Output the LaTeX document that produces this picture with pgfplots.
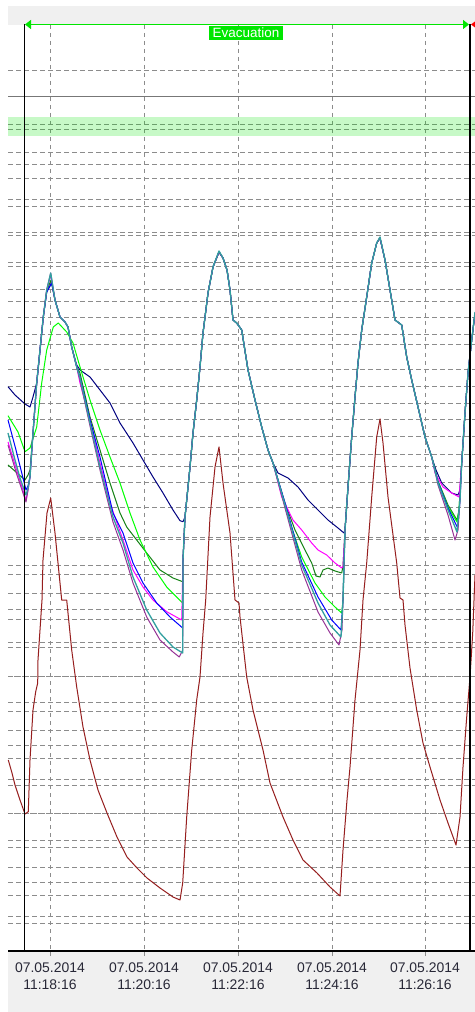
\documentclass[border=0pt]{standalone}
\usepackage{pgfplots}
\pgfplotsset{compat=1.18}
\usepackage{fontspec}
\setmainfont{Liberation Sans}
\usetikzlibrary{arrows.meta}

\definecolor{panel}{RGB}{240,240,240}
\definecolor{gridgray}{RGB}{140,140,140}
\definecolor{ticktext}{RGB}{40,40,55}
\definecolor{evgreen}{RGB}{0,230,0}
\definecolor{cMaroon}{RGB}{150,30,30}
\definecolor{cTeal}{RGB}{50,160,160}
\definecolor{cBlue}{RGB}{0,0,255}
\definecolor{cNavy}{RGB}{0,0,128}
\definecolor{cMagenta}{RGB}{255,0,255}
\definecolor{cPurple}{RGB}{150,50,150}
\definecolor{cLime}{RGB}{0,255,0}
\definecolor{cDkGreen}{RGB}{20,130,20}

\begin{document}
\begin{tikzpicture}[x=1bp,y=1bp]
\path[use as bounding box, fill=white] (0,0) rectangle (475,1012);
\fill[panel] (8,0) rectangle (475,1006);
\begin{axis}[
  at={(8bp,61bp)}, anchor=south west,
  scale only axis, width=467bp, height=926bp,
  xmin=8, xmax=475, ymin=25, ymax=951, y dir=reverse,
  clip=false,
  axis background/.style={fill=white},
  axis line style={draw=none},
  xtick={50,144,238,332,425},
  xticklabels={{07.05.2014\\11:18:16},{07.05.2014\\11:20:16},{07.05.2014\\11:22:16},{07.05.2014\\11:24:16},{07.05.2014\\11:26:16}},
  xtick pos=left, xticklabel pos=left,
  tick align=outside, major tick length=5bp,
  xtick style={draw=gridgray, line width=1bp},
  xticklabel style={align=center, font=\fontsize{14}{17}\selectfont, text=ticktext, yshift=-3bp},
  ytick={70.3,125,129.3,152.7,164.7,179,199.7,207,232.7,235.3,262.3,267,290,301.5,318,335,344.3,370,386.7,404,420,436.7,454.3,466.7,482.7,507.3,537.3,539.3,565,574,593.3,609.3,619.3,642.7,647.5,676,702.5,711.5,730.5,745,758.3,779.5,785,813.5,840.7,847.3,867.3,882.3,895.3,916.5,923.3},
  yticklabels={}, ytick style={draw=none},
  xmajorgrids, ymajorgrids,
  x grid style={gridgray, line width=1bp, dash pattern=on 4bp off 4bp},
  y grid style={gridgray, line width=1bp, dash pattern=on 5bp off 3bp},
  every axis plot/.append style={line width=1bp, line join=round, no markers},
]
% reference lines and band
\draw[gridgray!85!black, line width=1bp] (axis cs:8,97) -- (axis cs:475,97);
\draw[gridgray, line width=1bp, dash pattern=on 5bp off 3bp, dash phase=2bp] (axis cs:8,676) -- (axis cs:475,676);
\draw[gridgray, line width=1bp, dash pattern=on 5bp off 3bp, dash phase=2bp] (axis cs:8,813.5) -- (axis cs:475,813.5);
\fill[evgreen, opacity=0.22] (axis cs:8,117) rectangle (axis cs:475,136);

% outdoor / lower sensor
\addplot[cMaroon] coordinates {
(8.3,760) (12,773) (15,785) (20,800) (25,814) (28.3,811.7) (30,760) (33,710) (35.7,691.7) (37.7,683) (38,660) (42,600) (43,560) (47,513) (50.7,498)
(55,533) (61.7,600) (66.7,600) (71.7,650) (76.7,687) (83,727) (90,760) (98,790) (107,813) (117,837) (127,857) (137,868) (147,878) (160,888) (173,897) (180,900)
(182.7,883) (186.7,817) (191.7,750) (196.7,700) (200,677) (203,633) (205.7,600) (210,517) (215,467) (219,447)
(223,483) (230,533) (235,600) (239,603) (240,617) (246.7,677) (253,710) (263,750) (270,783) (283,817) (293,840) (303,860) (317,873) (330,887) (340,896)
(343,850) (347,800) (350,767) (355,700) (360,650) (363,600) (366.7,563) (371.7,497) (376.7,437) (380,419)
(383,443) (388,497) (396.7,563) (400,598) (403,600) (405,625) (410,668) (416.7,710) (423,743) (430,767) (440,800) (448,823) (456,845)
(460,817) (463,767) (466.7,717) (470,677) (472.7,633) (475,575)
};

\addplot[cNavy] coordinates {
(8,386.7) (15,395) (25,404) (30,407) (33,397) (36.7,383) (40,350) (43.3,317) (46.7,292) (51.7,283) (55,300) (60,317) (65,322) (68,327) (71.7,347) (76.7,365)
(80,370) (90,377) (100,390) (110,403) (120,423) (133,443) (143,460) (153,477) (163,493) (173,510) (180,520.7) (183,521.7)
(185,517) (190,467) (193,433) (196.7,400) (200,367) (203,333) (208,293) (213,267) (219,252) (223,258) (227,270) (230,290) (233,320) (236.7,323) (241.7,330) (248,370) (255,400) (261.7,427) (268,450) (273,463)
(278,473) (288,478) (298,487) (308,500) (318,510) (328,520) (338,528) (344,533)
(345,530) (348,487) (351.7,437) (355,397) (358,363) (361.7,330) (366.7,297) (371.7,263) (376.7,243) (380,238) (385,260) (390,290) (395,320) (401.7,325) (406.7,357) (411.7,380) (418,407) (425,437) (431.7,457)
(436,470) (441.7,483) (451.7,493) (458,495) (460,490) (461.7,463) (465,413) (468,373) (471.7,340) (475,313)
};

\addplot[cDkGreen] coordinates {
(8,465) (16,472) (25,480) (28,475) (30,470) (33,433) (36.7,383) (40,350) (43.3,317) (46.7,291) (51,280) (55,300) (60,317) (65,322) (68,327) (71.7,347) (76.7,367)
(80,373) (90,417) (100,450) (110,483) (120,513) (126.7,527) (136.7,540) (146.7,553) (160,570) (173,578) (182.7,581.7)
(183,560) (185,517) (190,467) (193,433) (196.7,400) (200,367) (203,333) (208,293) (213,267) (219,252) (223,258) (227,270) (230,290) (233,320) (236.7,323) (241.7,330) (248,370) (255,400) (261.7,427) (268,450) (273,463)
(285,503) (295,530) (305,550) (311.7,563) (316,576) (320,577) (323,570) (328,568) (335,571) (341.7,573)
(343,566) (345,530) (348,487) (351.7,437) (355,397) (358,363) (361.7,330) (366.7,297) (371.7,263) (376.7,243) (380,238) (385,260) (390,290) (395,320) (401.7,325) (406.7,357) (411.7,380) (418,407) (425,437) (431.7,457)
(438,481) (448,505) (457,520) (459,510) (461.7,463) (465,413) (468,373) (471.7,340) (475,313)
};

\addplot[cLime] coordinates {
(8,415.7) (18,432) (25,451.7) (30,448) (36.7,427) (41.7,383) (46.7,350) (53.3,327) (58.3,323) (66.7,332) (73,343) (80,367) (90,400) (100,430) (110,457) (120,483) (130,513) (140,540) (153,567) (166.7,587) (182.7,603)
(183,560) (185,517) (190,467) (193,433) (196.7,400) (200,367) (203,333) (208,293) (213,267) (219,252) (223,258) (227,270) (230,290) (233,320) (236.7,323) (241.7,330) (248,370) (255,400) (261.7,427) (268,450) (273,463)
(288,517) (301.7,557) (315,583) (325,597) (335,607) (341.7,613)
(343,600) (345,530) (348,487) (351.7,437) (355,397) (358,363) (361.7,330) (366.7,297) (371.7,263) (376.7,243) (380,238) (385,260) (390,290) (395,320) (401.7,325) (406.7,357) (411.7,380) (418,407) (425,437) (431.7,457)
(438,482) (448,507) (457,522) (459,510) (461.7,463) (465,413) (468,373) (471.7,340) (475,313)
};

\addplot[cMagenta] coordinates {
(8,442) (16,468) (26,500) (28,490) (30,477) (33,433) (36.7,383) (40,350) (43.3,317) (46.7,290) (50.7,275) (55,300) (60,317) (65,322) (68,327) (71.7,347) (76.7,367)
(80,383) (90,420) (100,463) (110,503) (123,540) (133,570) (143,587) (153,600) (166.7,611.7) (181.7,620)
(183,560) (185,517) (190,467) (193,433) (196.7,400) (200,367) (203,333) (208,293) (213,267) (219,252) (223,258) (227,270) (230,290) (233,320) (236.7,323) (241.7,330) (248,370) (255,400) (261.7,427) (268,450) (273,463)
(281.7,497) (293,520) (301.7,530) (311.7,543) (318,550) (326.7,555) (335,563) (341.7,568)
(343,566) (345,530) (348,487) (351.7,437) (355,397) (358,363) (361.7,330) (366.7,297) (371.7,263) (376.7,243) (380,238) (385,260) (390,290) (395,320) (401.7,325) (406.7,357) (411.7,380) (418,407) (425,437) (431.7,457)
(435,473) (443,487) (451.7,493) (459,497) (461.7,463) (465,413) (468,373) (471.7,340) (475,313)
};

\addplot[cBlue] coordinates {
(8,420) (16,450) (26,490) (28,486) (30,477) (33,433) (36.7,383) (40,350) (43.3,317) (46.7,292) (51.7,283) (55,300) (60,317) (65,322) (68,327) (71.7,347) (76.7,367)
(80,377) (90,420) (100,457) (113,513) (123,533) (133,563) (143,583) (156.7,603) (170,617) (182.7,628)
(183,560) (185,517) (190,467) (193,433) (196.7,400) (200,367) (203,333) (208,293) (213,267) (219,252) (223,258) (227,270) (230,290) (233,320) (236.7,323) (241.7,330) (248,370) (255,400) (261.7,427) (268,450) (273,463)
(285,503) (301.7,562) (318,597) (331.7,620) (341,630)
(343,600) (345,530) (348,487) (351.7,437) (355,397) (358,363) (361.7,330) (366.7,297) (371.7,263) (376.7,243) (380,238) (385,260) (390,290) (395,320) (401.7,325) (406.7,357) (411.7,380) (418,407) (425,437) (431.7,457)
(438,482) (448,508) (457.7,528) (460,500) (461.7,463) (465,413) (468,373) (471.7,340) (475,313)
};

\addplot[cPurple] coordinates {
(8,445) (16,472) (26,502) (28,490) (30,477) (33,433) (36.7,383) (40,350) (43.3,317) (46.7,290) (50.7,273) (55,300) (60,317) (65,322) (68,327) (71.7,347) (76.7,367)
(80,380) (90,426) (100,470) (113,522) (123,550) (133,583) (146.7,617) (160,640) (173,652) (179.3,657) (182.7,650)
(183,560) (185,517) (190,467) (193,433) (196.7,400) (200,367) (203,333) (208,293) (213,267) (219,252) (223,258) (227,270) (230,290) (233,320) (236.7,323) (241.7,330) (248,370) (255,400) (261.7,427) (268,450) (273,463)
(285,508) (301.7,570) (318,612) (330,633) (339,645) (342,630)
(343,600) (345,530) (348,487) (351.7,437) (355,397) (358,363) (361.7,330) (366.7,297) (371.7,263) (376.7,243) (380,238) (385,260) (390,290) (395,320) (401.7,325) (406.7,357) (411.7,380) (418,407) (425,437) (431.7,457)
(438,485) (448,515) (455,540) (458,530) (460,500) (461.7,463) (465,413) (468,373) (471.7,340) (475,313)
};

\addplot[cTeal, line width=1.3bp] coordinates {
(8,433) (15,460) (20,478) (26,495) (28,488) (30,477) (33,433) (36.7,383) (40,350) (43.3,317) (46.7,290) (50.7,273) (55,300) (60,317) (65,322) (68,327) (71.7,347) (76.7,367)
(80,378) (90,423) (100,467) (113,517) (123,543) (133,577) (146.7,610) (160,633) (173,647) (182.7,653)
(183,560) (185,517) (190,467) (193,433) (196.7,400) (200,367) (203,333) (208,293) (213,267) (219,251) (223,258) (227,270) (230,290) (233,320) (236.7,323) (241.7,330) (248,370) (255,400) (261.7,427) (268,450) (273,463)
(285,505) (301.7,565) (318,603) (330,625) (341,637)
(343,600) (345,530) (348,487) (351.7,437) (355,397) (358,363) (361.7,330) (366.7,297) (371.7,263) (376.7,243) (380,237) (385,260) (390,290) (395,320) (401.7,325) (406.7,357) (411.7,380) (418,407) (425,437) (431.7,457)
(438,483) (448,510) (457,532) (460,500) (461.7,463) (465,413) (468,373) (471.7,340) (475,312)
};

% event markers
\draw[black, line width=1.2bp] (axis cs:24.3,24) -- (axis cs:24.3,951);
\draw[black, line width=1.2bp] (axis cs:470,24) -- (axis cs:470,951);
\draw[black, line width=1.2bp] (axis cs:8,951) -- (axis cs:475,951);
\draw[evgreen, line width=1.3bp, {Triangle[length=6bp,width=9bp]}-{Triangle[length=6bp,width=9bp]}] (axis cs:25,24.5) -- (axis cs:469,24.5);
\fill[red] (axis cs:471,24.5) -- (axis cs:477,20) -- (axis cs:477,29) -- cycle;
\node[fill=evgreen, text=white, font=\fontsize{13.5}{13.5}\selectfont, inner sep=0pt, minimum width=74bp, minimum height=14bp] at (axis cs:246,33) {Evacuation};
\end{axis}
\end{tikzpicture}
\end{document}
